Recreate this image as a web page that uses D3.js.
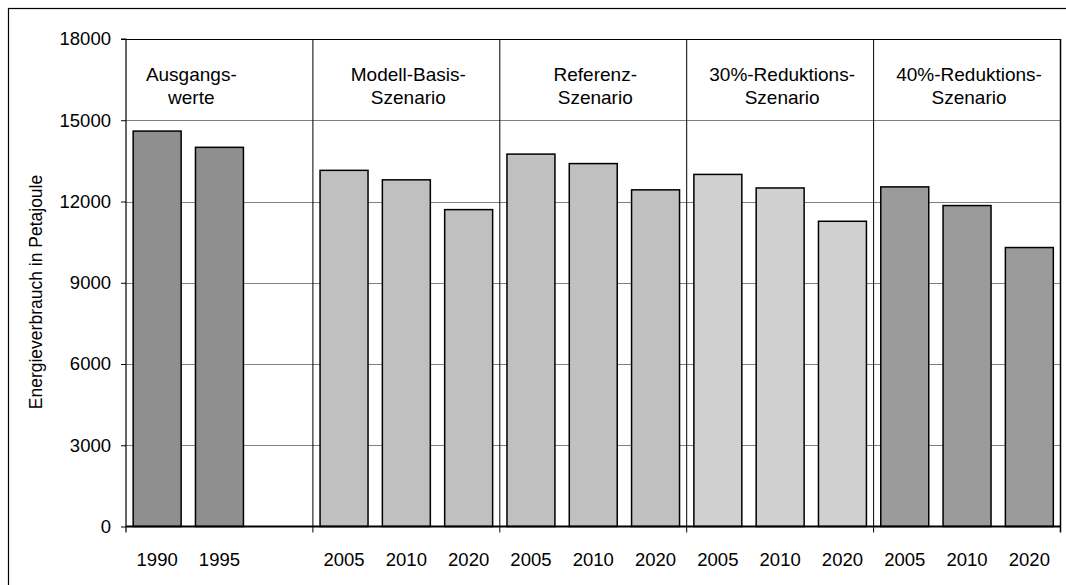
<!DOCTYPE html>
<html>
<head>
<meta charset="utf-8">
<script src="https://cdn.jsdelivr.net/npm/d3@7/dist/d3.min.js"></script>
<style>
  html, body { margin: 0; padding: 0; background: #fff; }
  svg { display: block; font-family: "Liberation Sans", Arial, sans-serif; }
</style>
</head>
<body>
<svg id="chart" width="1066" height="585"></svg>
<script>
// ---- data ----
const groupTitles = [
  ["Ausgangs-", "werte"],
  ["Modell-Basis-", "Szenario"],
  ["Referenz-", "Szenario"],
  ["30%-Reduktions-", "Szenario"],
  ["40%-Reduktions-", "Szenario"]
];
const slotKeys = ["g0-1990","g0-1995","g0-gap",
  "g1-2005","g1-2010","g1-2020",
  "g2-2005","g2-2010","g2-2020",
  "g3-2005","g3-2010","g3-2020",
  "g4-2005","g4-2010","g4-2020"];
const yearLabels = ["1990","1995","","2005","2010","2020","2005","2010","2020","2005","2010","2020","2005","2010","2020"];
const slotGroup = [0,0,0,1,1,1,2,2,2,3,3,3,4,4,4];
const values = [14600,14000,null,13150,12800,11700,13750,13400,12430,13000,12500,11270,12540,11850,10300];
const yTicks = [0,3000,6000,9000,12000,15000,18000];
const groupColors = ["#8f8f8f","#c0c0c0","#c0c0c0","#d0d0d0","#9b9b9b"];
const yLabel = "Energieverbrauch in Petajoule";

(function () {
// ---- layout ----
const svg = d3.select("#chart");
const pL = 126, pR = 1060.5, pT = 39, pB = 526.5;

const x = d3.scaleBand().domain(slotKeys).range([pL, pR]).padding(0);
const y = d3.scaleLinear().domain([0, 18000]).range([pB, pT]);
const barFrac = 0.77;

// outer frame
svg.append("rect").attr("x", 8.5).attr("y", 8.5).attr("width", 1080).attr("height", 600)
  .attr("fill", "none").attr("stroke", "#000").attr("stroke-width", 1.2);

// gridlines
svg.append("g").selectAll("line").data(yTicks.filter(d => d > 0 && d < 18000)).join("line")
  .attr("x1", pL).attr("x2", pR)
  .attr("y1", d => Math.round(y(d)) + 0.5).attr("y2", d => Math.round(y(d)) + 0.5)
  .attr("stroke", "#808080").attr("stroke-width", 1);

// group separators
const groupStarts = [];
slotGroup.forEach((g, i) => { if (i > 0 && g !== slotGroup[i-1]) groupStarts.push(slotKeys[i]); });
svg.append("g").selectAll("line").data(groupStarts).join("line")
  .attr("x1", d => x(d)).attr("x2", d => x(d))
  .attr("y1", pT).attr("y2", pB + 6)
  .attr("stroke", "#000").attr("stroke-width", 1);

// bars
const barData = values.map((v, i) => ({ key: slotKeys[i], v, g: slotGroup[i] })).filter(d => d.v != null);
svg.append("g").selectAll("rect").data(barData).join("rect")
  .attr("x", d => x(d.key) + x.bandwidth() * (1 - barFrac) / 2)
  .attr("width", x.bandwidth() * barFrac)
  .attr("y", d => y(d.v))
  .attr("height", d => y(0) - y(d.v))
  .attr("fill", d => groupColors[d.g])
  .attr("stroke", "#000").attr("stroke-width", 1.5);

// plot frame top / right
svg.append("line").attr("x1", pL).attr("x2", pR).attr("y1", pT + 0.5).attr("y2", pT + 0.5)
  .attr("stroke", "#000").attr("stroke-width", 1);
svg.append("line").attr("x1", pR).attr("x2", pR).attr("y1", pT).attr("y2", pB + 6)
  .attr("stroke", "#000").attr("stroke-width", 1.5);

// y axis
const yAxis = d3.axisLeft(y).tickValues(yTicks).tickSize(5).tickPadding(10).tickFormat(d3.format("d"));
const yg = svg.append("g").attr("transform", `translate(${pL},0)`).call(yAxis);
yg.select(".domain").attr("d", `M-5,${y(18000)}H0V${pB + 6}`).attr("stroke", "#000").attr("stroke-width", 1.2);
yg.selectAll(".tick line").attr("stroke", "#000");
yg.selectAll("text").attr("font-size", 18.5).attr("fill", "#000")
  .attr("font-family", '"Liberation Sans", Arial, sans-serif');

// x axis line
svg.append("line").attr("x1", pL).attr("x2", pR).attr("y1", pB).attr("y2", pB)
  .attr("stroke", "#000").attr("stroke-width", 2);

// x labels
svg.append("g").selectAll("text").data(slotKeys.map((k, i) => ({ k, t: yearLabels[i] }))).join("text")
  .attr("x", d => x(d.k) + x.bandwidth() / 2)
  .attr("y", 565.5)
  .attr("text-anchor", "middle")
  .attr("font-size", 18.5)
  .attr("fill", "#000")
  .text(d => d.t);

// group titles
const titleG = svg.append("g");
groupTitles.forEach((lines, g) => {
  const keys = slotKeys.filter((k, i) => slotGroup[i] === g && values[i] != null);
  const cx = (x(keys[0]) + x(keys[keys.length - 1]) + x.bandwidth()) / 2 + (g === 0 ? 3 : 2);
  titleG.append("text")
    .attr("x", cx).attr("y", 81)
    .attr("text-anchor", "middle").attr("font-size", 19).attr("fill", "#000")
    .selectAll("tspan").data(lines).join("tspan")
    .attr("x", cx).attr("dy", (d, i) => i === 0 ? 0 : 23)
    .text(d => d);
});

// y label
svg.append("text")
  .attr("transform", `translate(42,292) rotate(-90)`)
  .attr("text-anchor", "middle")
  .attr("font-size", 17.5)
  .attr("fill", "#000")
  .text(yLabel);
})();
</script>
</body>
</html>
